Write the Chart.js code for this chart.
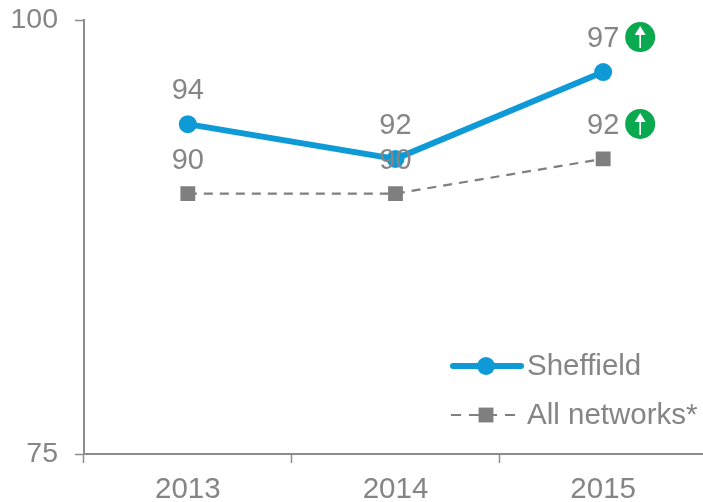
<!DOCTYPE html>
<html>
<head>
<meta charset="utf-8">
<title>Sheffield vs all networks</title>
<script src="https://cdn.jsdelivr.net/npm/chart.js@4"></script>
<style>
    html, body { margin: 0; padding: 0; background: #fff; overflow: hidden; }
    canvas { display: block; }
</style>
</head>
<body>
<canvas id="scoreChart" width="720" height="502"></canvas>
<script>
const years = ['2013', '2014', '2015'];
const sheffield = [94, 92, 97];
const allNetworks = [90, 90, 92];
const yTicks = [75, 100];
const improved = [false, false, true]; // years that get the green arrow

const GREY = '#858585';
const AXIS = '#8c8c8c';
const BLUE = '#0e9ad7';
const GREEN = '#0aa84f';
const FONT = '"Liberation Sans", Arial, sans-serif';

// Value labels above each point, plus the arrow badge
const valueLabels = {
    id: 'valueLabels',
    afterDatasetsDraw(chart) {
        const ctx = chart.ctx;
        ctx.save();
        ctx.font = '29px ' + FONT;
        ctx.textAlign = 'center';
        ctx.textBaseline = 'middle';
        chart.data.datasets.forEach((ds, i) => {
            chart.getDatasetMeta(i).data.forEach((pt, j) => {
                ctx.fillStyle = GREY;
                ctx.fillText(ds.data[j], pt.x, pt.y - 33);
                if (improved[j]) drawBadge(ctx, pt.x + 37, pt.y - 35);
            });
        });
        ctx.restore();
    }
};

function drawBadge(ctx, x, y) {
    ctx.fillStyle = GREEN;
    ctx.beginPath();
    ctx.arc(x, y, 15, 0, Math.PI * 2);
    ctx.fill();
    ctx.strokeStyle = '#fff';
    ctx.lineWidth = 1.6;
    ctx.beginPath();
    ctx.moveTo(x, y + 11);
    ctx.lineTo(x, y - 6);
    ctx.stroke();
    ctx.fillStyle = '#fff';
    ctx.beginPath();
    ctx.moveTo(x, y - 11);
    ctx.lineTo(x + 5.5, y - 2);
    ctx.lineTo(x - 5.5, y - 2);
    ctx.closePath();
    ctx.fill();
}

// Legend sits inside the plot, bottom right
const insideLegend = {
    id: 'insideLegend',
    afterDraw(chart) {
        const ctx = chart.ctx;
        const rows = [366, 415];
        ctx.save();
        chart.data.datasets.forEach((ds, i) => {
            const y = rows[i];
            ctx.strokeStyle = ds.borderColor;
            ctx.lineWidth = ds.borderWidth;
            ctx.lineCap = i === 0 ? 'round' : 'butt';
            ctx.setLineDash(ds.borderDash ? [10, 8] : []);
            ctx.beginPath();
            ctx.moveTo(i === 0 ? 453 : 451, y);
            ctx.lineTo(i === 0 ? 521 : 515, y);
            ctx.stroke();
            ctx.setLineDash([]);
            ctx.fillStyle = ds.pointBackgroundColor;
            Chart.helpers.drawPoint(ctx, {
                pointStyle: ds.pointStyle,
                radius: ds.pointRadius,
                borderWidth: 0
            }, 486, y);
            ctx.fillStyle = GREY;
            ctx.font = '29.5px ' + FONT;
            ctx.textAlign = 'left';
            ctx.textBaseline = 'middle';
            ctx.fillText(ds.label, 527, y + 1);
        });
        ctx.restore();
    }
};

new Chart(document.getElementById('scoreChart'), {
    type: 'line',
    data: {
        labels: years,
        datasets: [{
            label: 'Sheffield',
            data: sheffield,
            borderColor: BLUE,
            backgroundColor: BLUE,
            pointBackgroundColor: BLUE,
            pointBorderWidth: 0,
            pointStyle: 'circle',
            pointRadius: 9,
            borderWidth: 6,
            tension: 0
        }, {
            label: 'All networks*',
            data: allNetworks,
            borderColor: '#7f7f7f',
            backgroundColor: '#7f7f7f',
            pointBackgroundColor: '#7f7f7f',
            pointBorderWidth: 0,
            pointStyle: 'rect',
            pointRadius: 10.5,
            borderWidth: 2.2,
            borderDash: [9, 7],
            tension: 0
        }]
    },
    options: {
        responsive: false,
        animation: false,
        layout: { padding: { top: 20, right: 13, left: 0, bottom: 0 } },
        plugins: {
            legend: { display: false },
            tooltip: { enabled: false }
        },
        scales: {
            x: {
                offset: true,
                afterFit(scale) { scale.height = 48; },
                border: { color: AXIS, width: 2 },
                grid: {
                    offset: true,
                    drawOnChartArea: false,
                    drawTicks: true,
                    tickLength: 9,
                    tickWidth: 1.5,
                    tickColor: AXIS
                },
                ticks: {
                    color: GREY,
                    font: { family: FONT, size: 29.5 },
                    padding: 9,
                    maxRotation: 0
                }
            },
            y: {
                min: yTicks[0],
                max: yTicks[1],
                afterFit(scale) {
                    scale.width = 84;
                    // the top label may stick out above the plot area
                    scale.paddingTop = 0;
                    scale.paddingBottom = 0;
                },
                afterBuildTicks(scale) { scale.ticks = yTicks.map(v => ({ value: v })); },
                border: { color: AXIS, width: 2 },
                grid: {
                    drawOnChartArea: false,
                    drawTicks: true,
                    tickLength: 9,
                    tickWidth: 1.5,
                    tickColor: AXIS
                },
                ticks: {
                    color: GREY,
                    font: { family: FONT, size: 28.5 },
                    padding: 17
                }
            }
        }
    },
    plugins: [valueLabels, insideLegend]
});
</script>
</body>
</html>
